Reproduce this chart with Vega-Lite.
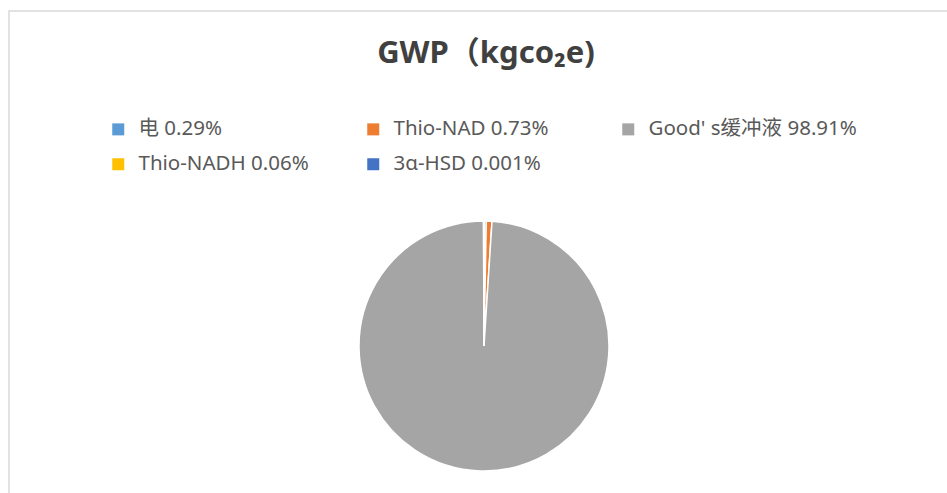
{
  "$schema": "https://vega.github.io/schema/vega-lite/v6.json",
  "autosize": "none",
  "width": 950,
  "height": 670,
  "padding": {"left": 9, "top": 11, "right": -12, "bottom": -188},
  "background": "white",
  "view": {"stroke": "#D9D9D9", "strokeWidth": 1.5, "fill": "white"},
  "config": {
    "view": {"stroke": "#D9D9D9", "strokeWidth": 1.5},
    "font": "Noto Sans, Noto Sans CJK SC"
  },
  "title": {
    "text": "GWP（kgco₂e)",
    "font": "Noto Sans, Noto Sans CJK SC",
    "fontSize": 31,
    "fontWeight": "bold",
    "color": "#404040",
    "anchor": "middle",
    "frame": "group",
    "offset": -59,
    "dx": 2
  },
  "data": {
    "values": [
      {"category": "电 0.29%", "share": 0.29, "seq": 1},
      {"category": "Thio-NAD 0.73%", "share": 0.73, "seq": 2},
      {"category": "Good' s缓冲液 98.91%", "share": 98.91, "seq": 3},
      {"category": "Thio-NADH 0.06%", "share": 0.06, "seq": 4},
      {"category": "3α-HSD 0.001%", "share": 0.001, "seq": 5}
    ]
  },
  "mark": {"type": "arc", "radius": 125, "stroke": "white", "strokeWidth": 1.5},
  "encoding": {
    "theta": {"field": "share", "type": "quantitative", "stack": true},
    "order": {"field": "seq", "type": "quantitative"},
    "color": {
      "field": "category",
      "type": "nominal",
      "scale": {
        "domain": ["电 0.29%", "Thio-NAD 0.73%", "Good' s缓冲液 98.91%", "Thio-NADH 0.06%", "3α-HSD 0.001%"],
        "range": ["#5B9BD5", "#ED7D31", "#A5A5A5", "#FFC000", "#4472C4"]
      },
      "legend": {
        "orient": "none",
        "direction": "horizontal",
        "legendX": 99,
        "legendY": 108,
        "columns": 3,
        "title": null,
        "symbolType": "square",
        "symbolSize": 144,
        "symbolStrokeWidth": 0,
        "labelFont": "Noto Sans, Noto Sans CJK SC",
        "labelFontSize": 20.5,
        "labelColor": "#595959",
        "labelOffset": 10,
        "labelLimit": 400,
        "columnPadding": 16,
        "rowPadding": 14,
        "gridAlign": "all"
      }
    }
  }
}
